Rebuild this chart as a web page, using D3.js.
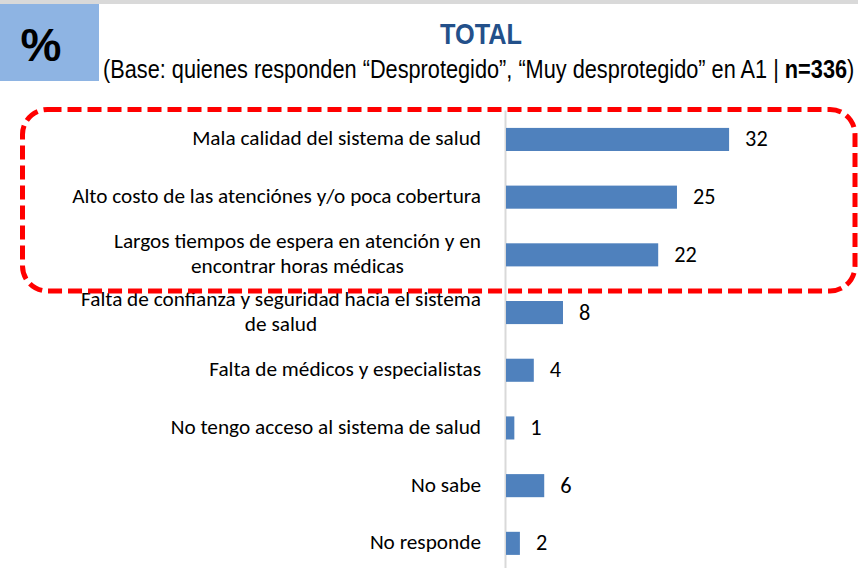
<!DOCTYPE html>
<html lang="es">
<head>
  <meta charset="UTF-8"/>
  <title>TOTAL</title>
  <script src="https://d3js.org/d3.v7.min.js"></script>
  <style>
    body { margin: 0; background: #fff; }
    svg { display: block; }
    .cat, .val { font-family: Carlito, "Open Sans", sans-serif; fill: #000; }
  </style>
</head>
<body>
<svg width="858" height="568"></svg>
<script>
  // data
  const categories = [
    'Mala calidad del sistema de salud',
    'Alto costo de las atenciónes y/o poca cobertura',
    'Largos tiempos de espera en atención y en\nencontrar horas médicas',
    'Falta de confianza y seguridad hacia el sistema\nde salud',
    'Falta de médicos y especialistas',
    'No tengo acceso al sistema de salud',
    'No sabe',
    'No responde'
  ];
  const values = [32.1, 24.6, 21.9, 8.2, 4.0, 1.2, 5.5, 2.0];

  const svg = d3.select('svg');
  const W = 858;

  // header
  svg.append('rect').attr('x', 0).attr('y', 0).attr('width', W).attr('height', 4).attr('fill', '#d9d9d9');
  svg.append('rect').attr('x', 0).attr('y', 4).attr('width', 99).attr('height', 77).attr('fill', '#8eb4e3');
  svg.append('text')
    .attr('x', 41).attr('y', 61)
    .attr('text-anchor', 'middle')
    .style('font-family', '"Liberation Sans", Arial, sans-serif')
    .style('font-weight', 'bold').style('font-size', '46px')
    .text('%');

  // squeeze a text to a given width (the original uses a narrow font)
  function fitWidth(sel, x, target) {
    const w = sel.node().getComputedTextLength();
    const k = target / w;
    sel.attr('transform', `translate(${x},0) scale(${k},1)`).attr('x', 0);
  }

  const title = svg.append('text')
    .attr('y', 44)
    .style('font-family', '"Liberation Sans Narrow", "Liberation Sans", Arial, sans-serif')
    .style('font-weight', 'bold').style('font-size', '29px')
    .attr('fill', '#23508a')
    .text('TOTAL');
  fitWidth(title, 440, 82);

  const sub = svg.append('text')
    .attr('y', 78)
    .style('font-family', '"Liberation Sans Narrow", "Liberation Sans", Arial, sans-serif')
    .style('font-size', '25px')
    .attr('fill', '#000');
  sub.append('tspan').text('(Base: quienes responden “Desprotegido”, “Muy desprotegido” en A1 | ');
  sub.append('tspan').style('font-weight', 'bold').text('n=336');
  sub.append('tspan').text(')');
  fitWidth(sub, 103, 752);

  // label font size chosen so the first label is as wide as in the original
  const probe = svg.append('text').attr('class', 'cat').style('font-size', '18px').text(categories[0]);
  const fs = 18 * 289 / probe.node().getComputedTextLength();
  probe.remove();

  // chart
  const xScale = d3.scaleLinear().domain([0, 50]).range([506, 853.5]);
  const yScale = d3.scaleBand()
    .domain(categories)
    .range([110.6, 572.2])
    .paddingInner(0.6)
    .paddingOuter(0.3);

  svg.append('line')
    .attr('x1', 505.5).attr('x2', 505.5)
    .attr('y1', yScale.range()[0]).attr('y2', yScale.range()[1])
    .attr('stroke', '#d9d9d9').attr('stroke-width', 2);

  const rows = svg.selectAll('g.row')
    .data(categories.map((c, i) => ({ c, v: values[i] })))
    .enter()
    .append('g')
    .attr('class', 'row');

  rows.append('rect')
    .attr('x', xScale(0))
    .attr('y', (d) => yScale(d.c))
    .attr('width', (d) => xScale(d.v) - xScale(0))
    .attr('height', yScale.bandwidth())
    .attr('fill', '#4f81bd');

  rows.append('text')
    .attr('class', 'val')
    .style('font-size', (fs + 1) + 'px')
    .attr('x', (d) => xScale(d.v) + 16)
    .attr('y', (d) => yScale(d.c) + yScale.bandwidth() / 2 + 7)
    .text((d) => Math.round(d.v));

  // category labels: block right aligned, wrapped lines centred
  rows.each(function (d) {
    const g = d3.select(this);
    const lines = d.c.split('\n');
    const cy = yScale(d.c) + yScale.bandwidth() / 2;
    const t = g.append('text').attr('class', 'cat').style('font-size', fs + 'px').attr('text-anchor', 'middle');
    const spans = lines.map((ln, i) => t.append('tspan')
      .attr('y', cy + 6 + (i - (lines.length - 1) / 2) * 25)
      .text(ln));
    const maxW = d3.max(spans, (s) => s.node().getComputedTextLength());
    const cx = 481 - maxW / 2;
    spans.forEach((s) => s.attr('x', cx));
  });

  // highlight box
  svg.append('rect')
    .attr('x', 22.5).attr('y', 109.5)
    .attr('width', 832.5).attr('height', 181.5)
    .attr('rx', 25).attr('ry', 25)
    .attr('fill', 'none')
    .attr('stroke', '#ff0000')
    .attr('stroke-width', 5)
    .attr('stroke-dasharray', '14 6');
</script>
</body>
</html>
